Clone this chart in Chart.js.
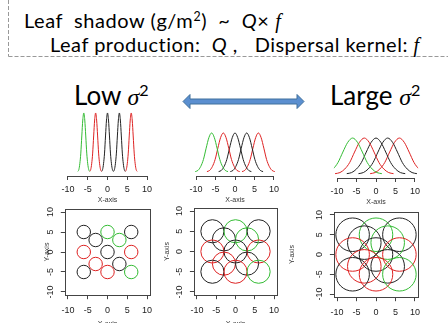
<!DOCTYPE html>
<html>
<head>
<meta charset="utf-8">
<script src="https://cdn.jsdelivr.net/npm/chart.js@4"></script>
<style>
  body { margin: 0; width: 448px; height: 323px; overflow: hidden; background: #fff; position: relative; font-family: Lato, "Open Sans", sans-serif; color: #000; }
  .abs { position: absolute; white-space: nowrap; }
  canvas { position: absolute; }
  .hd { font-size: 20px; line-height: 20px; }
  .big { font-size: 26px; line-height: 26px; }
  .math { font-family: "Liberation Serif", "DejaVu Serif", serif; font-style: italic; }
  .big .math { font-size: 0.92em; }
  .qi { font-style: italic; }
  sup { font-size: 0.62em; line-height: 0; vertical-align: 0.55em; }
</style>
</head>
<body>

<svg class="abs" style="left:0;top:0" width="448" height="60">
  <line x1="8.5" y1="0" x2="8.5" y2="56.5" stroke="#999" stroke-width="1" stroke-dasharray="4 2"/>
  <line x1="8.5" y1="56.5" x2="448" y2="56.5" stroke="#999" stroke-width="1" stroke-dasharray="4 2"/>
</svg>

<div class="abs hd" style="left:24px;top:10px;letter-spacing:0.55px">Leaf&nbsp; shadow (g/m<sup>2</sup>)&nbsp; ~&nbsp; <span class="qi">Q</span>× <span class="math">f</span></div>
<div class="abs hd" style="left:50px;top:34px;letter-spacing:0.5px">Leaf production:&nbsp; <span class="qi">Q</span> ,&nbsp;&nbsp; Dispersal kernel: <span class="math">f</span></div>

<div class="abs big" style="left:74px;top:82px">Low <span class="math">σ</span><sup>2</sup></div>
<div class="abs big" style="left:330px;top:82px">Large <span class="math">σ</span><sup>2</sup></div>

<svg class="abs" style="left:182px;top:93px" width="123" height="17">
  <polygon points="1,8.5 8,1.5 8,6 115,6 115,1.5 122,8.5 115,15.5 115,11 8,11 8,15.5"
           fill="#5b8fd0" stroke="#41719c" stroke-width="1"/>
</svg>

<canvas id="k1"></canvas>
<canvas id="k2"></canvas>
<canvas id="k3"></canvas>
<canvas id="c1"></canvas>
<canvas id="c2"></canvas>
<canvas id="c3"></canvas>

<script>
// tick labels shared by every panel
const tickValues = [-10, -5, 0, 5, 10];

// dispersal kernels (top row)
const kernelMeans = [-6, -3, 0, 3, 6];
const kernelColors = ["#33bb33", "#dd2222", "#222222", "#222222", "#dd2222"];
const kernelSpread = [0.5, 1.4, 2.5]; // low, middle, large sigma
const kernelOffsets = [-3, -2.5, -2, -1.5, -1, -0.5, 0, 0.5, 1, 1.5, 2, 2.5, 3];
const kernelShape = [0.01, 0.04, 0.14, 0.32, 0.61, 0.88, 1, 0.88, 0.61, 0.32, 0.14, 0.04, 0.01];

// leaf shadows of the trees (bottom row)
const circleX = [-6, 0, 6, -3, 3, -6, 0, 6, -3, 3, -6, 0, 6];
const circleY = [5, 5, 5, 3, 3, 0, 0, 0, -3, -3, -5, -5, -5];
const circleColors = ["#222222", "#33bb33", "#222222", "#222222", "#33bb33", "#dd2222", "#222222",
                      "#dd2222", "#dd2222", "#222222", "#222222", "#dd2222", "#33bb33"];
const circleRadius = [1.7, 3.0, 4.3];

Chart.defaults.font.family = '"Liberation Sans", Arial, sans-serif';
Chart.defaults.font.size = 9;
Chart.defaults.color = "#222";
Chart.defaults.animation = false;
Chart.defaults.events = [];
Chart.defaults.plugins.legend.display = false;
Chart.defaults.plugins.tooltip.enabled = false;

const axisGray = "#444";

// R style axis: line only from first to last tick
const rAxisLine = {
    id: "rAxisLine",
    afterDraw(chart) {
        const ctx = chart.ctx;
        const xs = chart.scales.x;
        const y = Math.round(chart.chartArea.bottom) + 0.5;
        ctx.save();
        ctx.strokeStyle = axisGray;
        ctx.lineWidth = 1;
        ctx.beginPath();
        ctx.moveTo(xs.getPixelForValue(tickValues[0]), y);
        ctx.lineTo(xs.getPixelForValue(tickValues[tickValues.length - 1]), y);
        ctx.stroke();
        ctx.restore();
    }
};

// box round the plot region + y tick labels turned like R draws them
const boxFrame = {
    id: "boxFrame",
    afterDraw(chart) {
        const { ctx, chartArea: a } = chart;
        const ys = chart.scales.y;
        ctx.save();
        ctx.strokeStyle = axisGray;
        ctx.lineWidth = 1;
        ctx.strokeRect(Math.round(a.left) + 0.5, Math.round(a.top) + 0.5,
            Math.round(a.right - a.left), Math.round(a.bottom - a.top));
        ctx.fillStyle = "#222";
        ctx.font = '9px "Liberation Sans", Arial, sans-serif';
        ctx.textAlign = "center";
        ctx.textBaseline = "middle";
        tickValues.forEach(v => {
            ctx.save();
            ctx.translate(a.left - 14.5, ys.getPixelForValue(v));
            ctx.rotate(-Math.PI / 2);
            ctx.fillText(String(v), 0, 0);
            ctx.restore();
        });
        ctx.restore();
    }
};

// size + place a canvas so its plot area lands on the target rect
function place(canvas, area, yW, side, top, axisH) {
    const cx = Math.floor(area.l - yW - side);
    const cy = Math.floor(area.t - top);
    const w = Math.ceil(area.r + side) - cx;
    const h = Math.ceil(area.b + axisH) - cy;
    canvas.width = w;
    canvas.height = h;
    canvas.style.left = cx + "px";
    canvas.style.top = cy + "px";
    canvas.style.width = w + "px";
    canvas.style.height = h + "px";
    return {
        left: area.l - yW - cx,
        right: cx + w - area.r,
        top: area.t - cy,
        bottom: cy + h - area.b - axisH
    };
}

function xAxis(axisH, pad) {
    return {
        type: "linear",
        min: -10.8,
        max: 10.8,
        afterBuildTicks: s => { s.ticks = tickValues.map(v => ({ value: v })); },
        afterFit: s => { s.height = axisH; },
        grid: { drawOnChartArea: false, tickLength: 4, color: axisGray },
        border: { display: false },
        ticks: { padding: pad, maxRotation: 0, autoSkip: false },
        title: { display: true, text: "X-axis", font: { size: 7 }, padding: 0, color: "#333" }
    };
}

function kernelPanel(id, area, spread) {
    const canvas = document.getElementById(id);
    const axisH = 28;
    const pad = place(canvas, area, 0, 16, 4, axisH);
    const datasets = kernelMeans.map((m, i) => ({
        data: kernelOffsets.map((o, j) => ({ x: m + o * spread, y: kernelShape[j] })),
        borderColor: kernelColors[i],
        borderWidth: 1,
        pointRadius: 0,
        showLine: true,
        cubicInterpolationMode: "monotone"
    }));
    new Chart(canvas, {
        type: "scatter",
        data: { datasets },
        options: {
            responsive: false,
            layout: { padding: pad },
            scales: {
                x: xAxis(axisH, 4.6),
                y: { display: false, min: area.ymin, max: area.ymax }
            }
        },
        plugins: [rAxisLine]
    });
}

function circlePanel(id, area, radius, yW) {
    const canvas = document.getElementById(id);
    const axisH = 33;
    const pad = place(canvas, area, yW, 10, 4, axisH);
    new Chart(canvas, {
        type: "scatter",
        data: {
            datasets: [{
                data: circleX.map((x, i) => ({ x: x, y: circleY[i] })),
                pointStyle: "circle",
                pointBackgroundColor: "rgba(0,0,0,0)",
                pointBorderColor: circleColors,
                pointBorderWidth: 1,
                pointRadius: ctx => {
                    const xs = ctx.chart.scales.x;
                    return Math.abs(xs.getPixelForValue(radius) - xs.getPixelForValue(0));
                }
            }]
        },
        options: {
            responsive: false,
            layout: { padding: pad },
            scales: {
                x: xAxis(axisH, 6.4),
                y: {
                    type: "linear",
                    min: -10.8,
                    max: 10.8,
                    afterBuildTicks: s => { s.ticks = tickValues.map(v => ({ value: v })); },
                    afterFit: s => { s.width = yW; },
                    grid: { drawOnChartArea: false, tickLength: 4, color: axisGray },
                    border: { display: false },
                    ticks: { display: false },
                    title: { display: true, text: "Y-axis", font: { size: 7 }, padding: 0, color: "#333" }
                }
            }
        },
        plugins: [boxFrame]
    });
}

kernelPanel("k1", { l: 64.8, r: 150.2, t: 110.6, b: 176, ymin: -0.068, ymax: 1.04 }, kernelSpread[0]);
kernelPanel("k2", { l: 192.9, r: 277.1, t: 131.4, b: 176, ymin: -0.103, ymax: 1.04 }, kernelSpread[1]);
kernelPanel("k3", { l: 333.9, r: 418.1, t: 136.6, b: 178, ymin: -0.111, ymax: 1.04 }, kernelSpread[2]);

circlePanel("c1", { l: 64.8, r: 150.2, t: 208.8, b: 295.2 }, circleRadius[0], 22);
circlePanel("c2", { l: 193.9, r: 277.1, t: 207.8, b: 295.2 }, circleRadius[1], 31);
circlePanel("c3", { l: 333.9, r: 418.1, t: 211.8, b: 297.2 }, circleRadius[2], 46);
</script>
</body>
</html>
